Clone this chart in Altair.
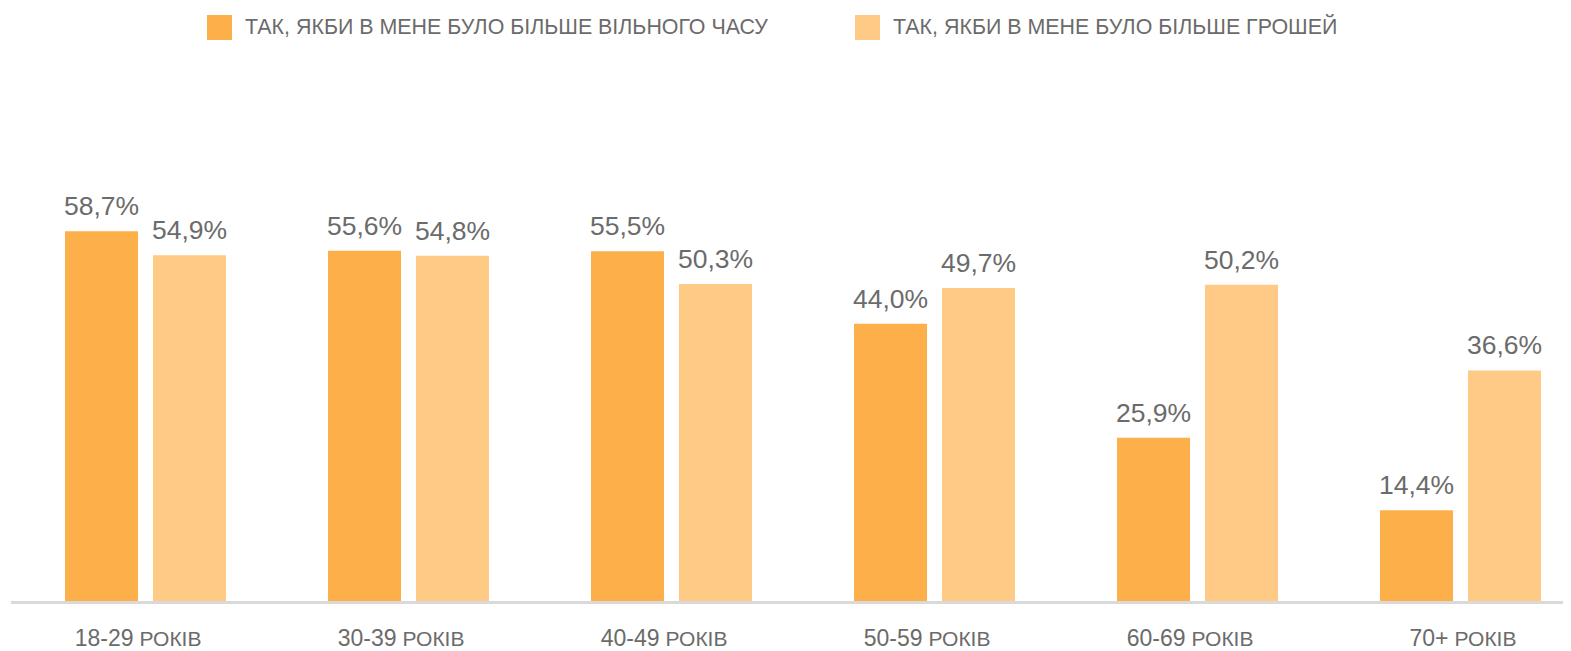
import altair as alt
import pandas as pd

categories = ["18-29", "30-39", "40-49", "50-59", "60-69", "70+"]
unit = "РОКІВ"
series = [
    "ТАК, ЯКБИ В МЕНЕ БУЛО БІЛЬШЕ ВІЛЬНОГО ЧАСУ",
    "ТАК, ЯКБИ В МЕНЕ БУЛО БІЛЬШЕ ГРОШЕЙ",
]
free_time = [58.7, 55.6, 55.5, 44.0, 25.9, 14.4]
money = [54.9, 54.8, 50.3, 49.7, 50.2, 36.6]

ORANGE = "#FDAF4A"
LIGHT = "#FFCA85"
GRAY = "#6b6b6b"
FONT = "Liberation Sans"

rows = []
for c, a, b in zip(categories, free_time, money):
    rows.append({"age": c, "series": series[0], "value": a})
    rows.append({"age": c, "series": series[1], "value": b})
df = pd.DataFrame(rows)
df["label"] = df["value"].map(lambda v: f"{v:.1f}".replace(".", ",") + "%")

cat_df = pd.DataFrame({"age": categories, "unit": [unit] * len(categories)})

W = 1552
H = 504

x = alt.X("age:N", sort=categories, axis=None,
          scale=alt.Scale(range=[3, 1581], paddingInner=0, paddingOuter=0))
xo = alt.XOffset("series:N", sort=series,
                 scale=alt.Scale(paddingInner=0.17, paddingOuter=0.58))
y = alt.Y("value:Q", axis=None, scale=alt.Scale(domain=[0, 80]))

bars = alt.Chart(df).mark_bar().encode(
    x=x,
    xOffset=xo,
    y=y,
    color=alt.Color(
        "series:N",
        sort=series,
        scale=alt.Scale(domain=series, range=[ORANGE, LIGHT]),
        legend=alt.Legend(
            title=None,
            orient="none",
            legendX=196,
            legendY=-82,
            direction="horizontal",
            symbolType="square",
            symbolSize=625,
            symbolStrokeWidth=0,
            symbolOpacity=1,
            labelFont=FONT,
            labelFontSize=21.4,
            labelColor=GRAY,
            labelLimit=0,
            labelOffset=13,
            columnPadding=87,
        ),
    ),
)

values = alt.Chart(df).mark_text(
    align="center", baseline="alphabetic", dy=-16,
    fontSize=26.5, font=FONT, color=GRAY,
).encode(x=x, xOffset=xo, y=y, text="label:N")

nums = alt.Chart(cat_df).mark_text(
    align="right", baseline="alphabetic", dx=-12,
    fontSize=23, font=FONT, color=GRAY,
).encode(x=x, y=alt.value(H + 45), text="age:N")

units = alt.Chart(cat_df).mark_text(
    align="left", baseline="alphabetic", dx=-6,
    fontSize=21, font=FONT, color=GRAY,
).encode(x=x, y=alt.value(H + 45), text="unit:N")

base = alt.Chart(alt.Data(values=[{}])).mark_rule(
    color="#d9d9d9", strokeWidth=3
).encode(x=alt.value(0), x2=alt.value(W + 20), y=alt.value(H + 1.5))

chart = alt.layer(bars, values, base, nums, units).properties(
    width=W,
    height=H,
    padding={"left": 3, "top": 89, "right": 0, "bottom": 50},
    autosize=alt.AutoSizeParams(type="none"),
).configure_view(stroke=None)

chart.save("out.html", embed_options={"renderer": "svg", "actions": False})
